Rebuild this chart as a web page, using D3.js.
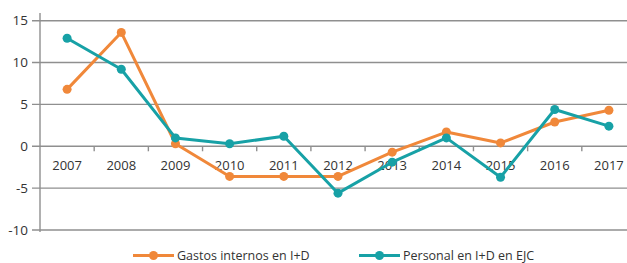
<!DOCTYPE html>
<html>
<head>
<meta charset="utf-8">
<script src="https://cdn.jsdelivr.net/npm/d3@7"></script>
<style>
  body { margin: 0; background: #fff; }
  text { font-family: "Open Sans", sans-serif; fill: #333; }
</style>
</head>
<body>
<svg id="chart" width="627" height="263"></svg>
<script>
// chart data
var years = ["2007","2008","2009","2010","2011","2012","2013","2014","2015","2016","2017"];
var gastos = [6.8, 13.6, 0.3, -3.6, -3.6, -3.6, -0.7, 1.7, 0.4, 2.9, 4.3];
var personal = [12.9, 9.2, 1.0, 0.3, 1.2, -5.6, -1.9, 1.0, -3.7, 4.4, 2.4];
var yTicks = [15, 10, 5, 0, -5, -10];
var seriesNames = ["Gastos internos en I+D", "Personal en I+D en EJC"];
var colors = ["#f0883a", "#17a1a6"];

var svg = d3.select("#chart");
var W = 627, H = 263;
var left = 40;

var x = d3.scaleBand().domain(years).range([left, 636]);
var y = d3.scaleLinear().domain([-10, 15]).range([230, 20.7]);

// grid lines
svg.append("g").selectAll("line")
  .data(yTicks)
  .enter().append("line")
  .attr("x1", left - 8)
  .attr("x2", W)
  .attr("y1", d => y(d))
  .attr("y2", d => y(d))
  .style("stroke", "#8f8f8f")
  .style("stroke-width", 1.4);

// y labels
svg.append("g").selectAll("text")
  .data(yTicks)
  .enter().append("text")
  .attr("x", 28)
  .attr("y", d => y(d))
  .attr("dy", "0.35em")
  .attr("text-anchor", "end")
  .attr("font-size", "13.5px")
  .text(d => d);

// y axis line
svg.append("line")
  .attr("x1", left).attr("x2", left)
  .attr("y1", 13).attr("y2", y(-10) + 2)
  .style("stroke", "#8f8f8f")
  .style("stroke-width", 1.4);

// x ticks on zero line (band boundaries)
svg.append("g").selectAll("line")
  .data(years.slice(1))
  .enter().append("line")
  .attr("x1", d => x(d))
  .attr("x2", d => x(d))
  .attr("y1", y(0))
  .attr("y2", y(0) + 5)
  .style("stroke", "#8f8f8f")
  .style("stroke-width", 1.4);

// x labels
svg.append("g").selectAll("text")
  .data(years)
  .enter().append("text")
  .attr("x", d => x(d) + x.bandwidth() / 2)
  .attr("y", 165)
  .attr("dy", "0.35em")
  .attr("text-anchor", "middle")
  .attr("font-size", "13px")
  .text(d => d);

var line = d3.line()
  .x((d, i) => x(years[i]) + x.bandwidth() / 2)
  .y(d => y(d));

[gastos, personal].forEach(function(vals, s) {
  var g = svg.append("g");
  g.append("path")
    .datum(vals)
    .attr("d", line)
    .style("fill", "none")
    .style("stroke", colors[s])
    .style("stroke-width", 3)
    .style("stroke-linejoin", "round");
  g.selectAll("circle")
    .data(vals)
    .enter().append("circle")
    .attr("cx", (d, i) => x(years[i]) + x.bandwidth() / 2)
    .attr("cy", d => y(d))
    .attr("r", 4.5)
    .style("fill", colors[s]);
});

// legend
var legendX = [133, 359];
var legend = svg.append("g").selectAll("g")
  .data(seriesNames)
  .enter().append("g")
  .attr("transform", (d, i) => "translate(" + legendX[i] + ",255.5)");
legend.append("line")
  .attr("x1", 0).attr("x2", 41)
  .style("stroke", (d, i) => colors[i])
  .style("stroke-width", 3);
legend.append("circle")
  .attr("cx", 20.5)
  .attr("r", 4.5)
  .style("fill", (d, i) => colors[i]);
legend.append("text")
  .attr("x", 44)
  .attr("dy", "0.35em")
  .attr("font-size", "12.5px")
  .text(d => d);
</script>
</body>
</html>
